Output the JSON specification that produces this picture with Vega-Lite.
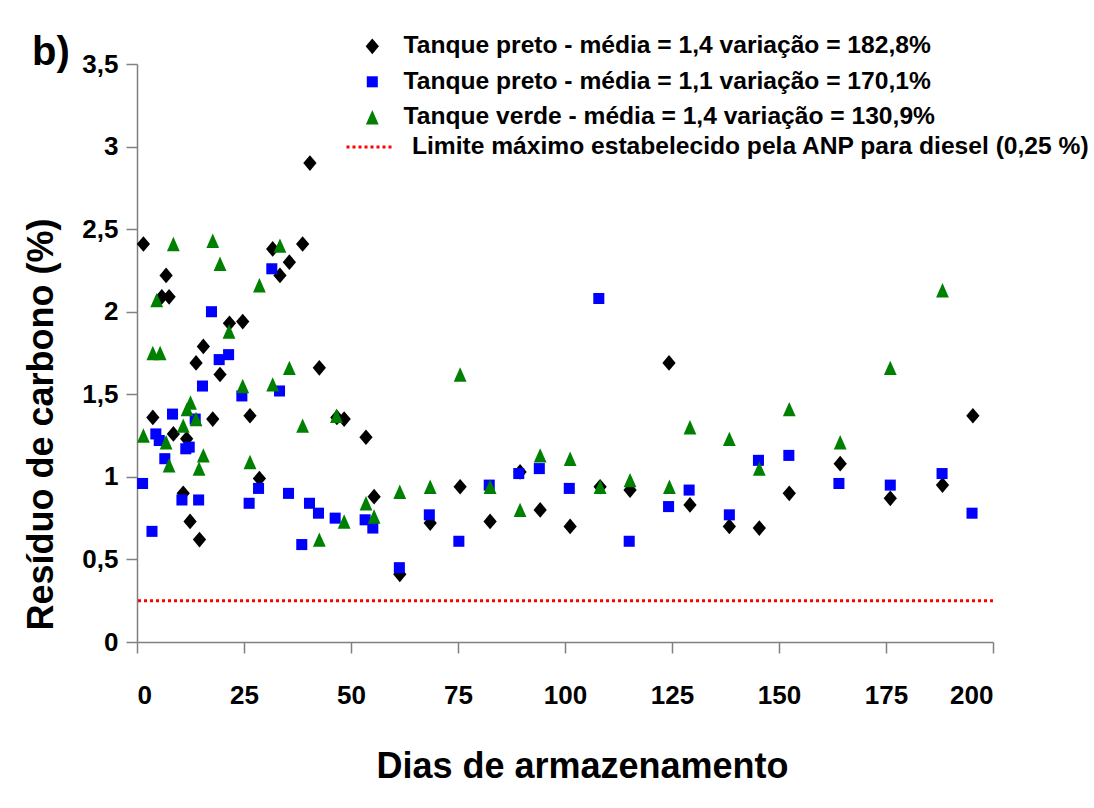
{
  "$schema": "https://vega.github.io/schema/vega-lite/v6.json",
  "width": 856,
  "height": 578,
  "autosize": "none",
  "padding": {"left": 137, "top": 64, "right": 101, "bottom": 166},
  "background": "white",
  "config": {
    "font": "Liberation Sans",
    "view": {"stroke": null},
    "axis": {
      "grid": false,
      "domainColor": "#808080",
      "domainWidth": 1.5,
      "tickColor": "#808080",
      "tickWidth": 1.5,
      "tickSize": 11,
      "labelFont": "Liberation Sans",
      "labelFontSize": 26,
      "labelFontWeight": "bold",
      "labelColor": "black",
      "titleFont": "Liberation Sans",
      "titleFontSize": 36,
      "titleFontWeight": "bold",
      "titleColor": "black"
    }
  },
  "title": {
    "text": "b)",
    "anchor": "start",
    "frame": "group",
    "baseline": "alphabetic",
    "offset": 0,
    "dx": -105,
    "dy": 71,
    "fontSize": 40,
    "fontWeight": "bold",
    "font": "Liberation Sans",
    "color": "black"
  },
  "layer": [
    {
      "data": {"values": [{"lim": 0.25, "k": "Limite máximo estabelecido pela ANP para diesel (0,25 %)"}]},
      "mark": {"type": "rule", "color": "#FF0000", "strokeWidth": 3},
      "encoding": {
        "y": {"field": "lim", "type": "quantitative"},
        "strokeDash": {
          "field": "k",
          "type": "nominal",
          "scale": {"range": [[3, 3]]},
          "legend": {
            "title": null,
            "orient": "none",
            "legendX": 208,
            "legendY": 59,
            "symbolType": "stroke",
            "symbolSize": 2025,
            "symbolStrokeColor": "#FF0000",
            "symbolStrokeWidth": 3,
            "symbolDash": [3, 3],
            "labelFont": "Liberation Sans",
            "labelFontSize": 24.6,
            "labelFontWeight": "bold",
            "labelColor": "black",
            "labelLimit": 1000,
            "labelOffset": 19
          }
        }
      }
    },
    {
      "data": {"values": [
        {"d": 1.5, "v": 2.41, "s": "a"}, {"d": 3.7, "v": 1.36, "s": "a"}, {"d": 5.8, "v": 2.09, "s": "a"},
        {"d": 6.8, "v": 2.22, "s": "a"}, {"d": 7.5, "v": 2.09, "s": "a"}, {"d": 8.5, "v": 1.26, "s": "a"},
        {"d": 10.8, "v": 0.90, "s": "a"}, {"d": 11.6, "v": 1.23, "s": "a"}, {"d": 12.4, "v": 0.73, "s": "a"},
        {"d": 13.8, "v": 1.69, "s": "a"}, {"d": 14.6, "v": 0.62, "s": "a"}, {"d": 15.5, "v": 1.79, "s": "a"},
        {"d": 17.7, "v": 1.35, "s": "a"}, {"d": 19.4, "v": 1.62, "s": "a"}, {"d": 21.6, "v": 1.93, "s": "a"},
        {"d": 24.7, "v": 1.94, "s": "a"}, {"d": 26.4, "v": 1.37, "s": "a"}, {"d": 28.6, "v": 0.99, "s": "a"},
        {"d": 31.7, "v": 2.38, "s": "a"}, {"d": 33.4, "v": 2.22, "s": "a"}, {"d": 35.6, "v": 2.30, "s": "a"},
        {"d": 38.7, "v": 2.41, "s": "a"}, {"d": 40.4, "v": 2.90, "s": "a"}, {"d": 42.6, "v": 1.66, "s": "a"},
        {"d": 46.7, "v": 1.36, "s": "a"}, {"d": 48.4, "v": 1.35, "s": "a"}, {"d": 53.5, "v": 1.24, "s": "a"},
        {"d": 55.4, "v": 0.88, "s": "a"}, {"d": 61.4, "v": 0.41, "s": "a"}, {"d": 68.5, "v": 0.72, "s": "a"},
        {"d": 75.5, "v": 0.94, "s": "a"}, {"d": 82.5, "v": 0.73, "s": "a"}, {"d": 89.5, "v": 1.03, "s": "a"},
        {"d": 94.2, "v": 0.80, "s": "a"}, {"d": 101.2, "v": 0.70, "s": "a"}, {"d": 108.2, "v": 0.94, "s": "a"},
        {"d": 115.2, "v": 0.92, "s": "a"}, {"d": 124.3, "v": 1.69, "s": "a"}, {"d": 129.2, "v": 0.83, "s": "a"},
        {"d": 138.4, "v": 0.70, "s": "a"}, {"d": 145.4, "v": 0.69, "s": "a"}, {"d": 152.4, "v": 0.90, "s": "a"},
        {"d": 164.3, "v": 1.08, "s": "a"}, {"d": 176.0, "v": 0.87, "s": "a"}, {"d": 188.2, "v": 0.95, "s": "a"},
        {"d": 195.3, "v": 1.37, "s": "a"},

        {"d": 1.3, "v": 0.96, "s": "b"}, {"d": 3.5, "v": 0.67, "s": "b"}, {"d": 4.4, "v": 1.26, "s": "b"},
        {"d": 5.2, "v": 1.22, "s": "b"}, {"d": 6.5, "v": 1.11, "s": "b"}, {"d": 8.3, "v": 1.38, "s": "b"},
        {"d": 10.5, "v": 0.86, "s": "b"}, {"d": 11.4, "v": 1.17, "s": "b"}, {"d": 12.2, "v": 1.18, "s": "b"},
        {"d": 13.6, "v": 1.35, "s": "b"}, {"d": 14.4, "v": 0.86, "s": "b"}, {"d": 15.3, "v": 1.55, "s": "b"},
        {"d": 17.4, "v": 2.00, "s": "b"}, {"d": 19.2, "v": 1.71, "s": "b"}, {"d": 21.4, "v": 1.74, "s": "b"},
        {"d": 24.5, "v": 1.49, "s": "b"}, {"d": 26.2, "v": 0.84, "s": "b"}, {"d": 28.4, "v": 0.93, "s": "b"},
        {"d": 31.5, "v": 2.26, "s": "b"}, {"d": 33.3, "v": 1.52, "s": "b"}, {"d": 35.4, "v": 0.90, "s": "b"},
        {"d": 38.5, "v": 0.59, "s": "b"}, {"d": 40.3, "v": 0.84, "s": "b"}, {"d": 42.4, "v": 0.78, "s": "b"},
        {"d": 46.3, "v": 0.75, "s": "b"}, {"d": 53.3, "v": 0.74, "s": "b"}, {"d": 55.1, "v": 0.69, "s": "b"},
        {"d": 61.3, "v": 0.45, "s": "b"}, {"d": 68.3, "v": 0.77, "s": "b"}, {"d": 75.2, "v": 0.61, "s": "b"},
        {"d": 82.3, "v": 0.95, "s": "b"}, {"d": 89.2, "v": 1.02, "s": "b"}, {"d": 94.0, "v": 1.05, "s": "b"},
        {"d": 101.0, "v": 0.93, "s": "b"}, {"d": 107.9, "v": 2.08, "s": "b"}, {"d": 115.0, "v": 0.61, "s": "b"},
        {"d": 124.2, "v": 0.82, "s": "b"}, {"d": 129.0, "v": 0.92, "s": "b"}, {"d": 138.4, "v": 0.77, "s": "b"},
        {"d": 145.2, "v": 1.10, "s": "b"}, {"d": 152.3, "v": 1.13, "s": "b"}, {"d": 164.0, "v": 0.96, "s": "b"},
        {"d": 176.0, "v": 0.95, "s": "b"}, {"d": 188.1, "v": 1.02, "s": "b"}, {"d": 195.1, "v": 0.78, "s": "b"},

        {"d": 1.5, "v": 1.25, "s": "c"}, {"d": 3.7, "v": 1.75, "s": "c"}, {"d": 4.6, "v": 2.07, "s": "c"},
        {"d": 5.4, "v": 1.75, "s": "c"}, {"d": 6.8, "v": 1.21, "s": "c"}, {"d": 7.5, "v": 1.07, "s": "c"},
        {"d": 8.5, "v": 2.41, "s": "c"}, {"d": 10.8, "v": 1.31, "s": "c"}, {"d": 11.7, "v": 1.41, "s": "c"},
        {"d": 12.5, "v": 1.45, "s": "c"}, {"d": 13.8, "v": 1.35, "s": "c"}, {"d": 14.5, "v": 1.05, "s": "c"},
        {"d": 15.5, "v": 1.13, "s": "c"}, {"d": 17.7, "v": 2.43, "s": "c"}, {"d": 19.4, "v": 2.29, "s": "c"},
        {"d": 21.5, "v": 1.88, "s": "c"}, {"d": 24.7, "v": 1.55, "s": "c"}, {"d": 26.4, "v": 1.09, "s": "c"},
        {"d": 28.6, "v": 2.16, "s": "c"}, {"d": 31.7, "v": 1.56, "s": "c"}, {"d": 33.4, "v": 2.40, "s": "c"},
        {"d": 35.6, "v": 1.66, "s": "c"}, {"d": 38.7, "v": 1.31, "s": "c"}, {"d": 42.6, "v": 0.62, "s": "c"},
        {"d": 46.6, "v": 1.37, "s": "c"}, {"d": 48.4, "v": 0.73, "s": "c"}, {"d": 53.5, "v": 0.84, "s": "c"},
        {"d": 55.4, "v": 0.76, "s": "c"}, {"d": 61.4, "v": 0.91, "s": "c"}, {"d": 68.5, "v": 0.94, "s": "c"},
        {"d": 75.5, "v": 1.62, "s": "c"}, {"d": 82.5, "v": 0.94, "s": "c"}, {"d": 89.5, "v": 0.80, "s": "c"},
        {"d": 94.2, "v": 1.13, "s": "c"}, {"d": 101.2, "v": 1.11, "s": "c"}, {"d": 108.2, "v": 0.94, "s": "c"},
        {"d": 115.2, "v": 0.98, "s": "c"}, {"d": 124.4, "v": 0.94, "s": "c"}, {"d": 129.2, "v": 1.30, "s": "c"},
        {"d": 138.4, "v": 1.23, "s": "c"}, {"d": 145.4, "v": 1.05, "s": "c"}, {"d": 152.4, "v": 1.41, "s": "c"},
        {"d": 164.3, "v": 1.21, "s": "c"}, {"d": 176.0, "v": 1.66, "s": "c"}, {"d": 188.2, "v": 2.13, "s": "c"}
      ]},
      "mark": {"type": "point", "filled": true, "opacity": 1, "size": 256},
      "encoding": {
        "x": {
          "field": "d",
          "type": "quantitative",
          "scale": {"domain": [0, 200], "nice": false, "zero": true},
          "axis": {
            "values": [0, 25, 50, 75, 100, 125, 150, 175, 200],
            "title": "Dias de armazenamento",
            "labelBaseline": "alphabetic",
            "labelPadding": 50,
            "titleBaseline": "alphabetic",
            "titleX": 445,
            "titleY": 135,
            "titleAnchor": "middle"
          }
        },
        "y": {
          "field": "v",
          "type": "quantitative",
          "scale": {"domain": [0, 3.5], "nice": false},
          "axis": {
            "values": [0, 0.5, 1, 1.5, 2, 2.5, 3, 3.5],
            "labelExpr": "replace(toString(datum.value), '.', ',')",
            "labelPadding": 8,
            "title": "Resíduo de carbono (%)",
            "titleBaseline": "alphabetic",
            "titleX": -85,
            "titleY": 360,
            "titleAnchor": "middle"
          }
        },
        "color": {
          "field": "s",
          "type": "nominal",
          "scale": {"domain": ["a", "b", "c"], "range": ["#000000", "#0000FF", "#008000"]},
          "legend": {
            "title": null,
            "orient": "none",
            "legendX": 223,
            "legendY": -30,
            "symbolSize": 256,
            "symbolStrokeWidth": 0,
            "labelFont": "Liberation Sans",
            "labelFontSize": 24.6,
            "labelFontWeight": "bold",
            "labelColor": "black",
            "labelLimit": 1000,
            "labelOffset": 19,
            "rowPadding": 10.5,
            "labelExpr": "datum.value == 'a' ? 'Tanque preto - média = 1,4 variação = 182,8%' : datum.value == 'b' ? 'Tanque preto - média = 1,1 variação = 170,1%' : 'Tanque verde - média = 1,4 variação = 130,9%'"
          }
        },
        "shape": {
          "field": "s",
          "type": "nominal",
          "scale": {"domain": ["a", "b", "c"], "range": ["M0,-0.98L0.83,0L0,0.98L-0.83,0Z", "M-0.69,-0.69L0.69,-0.69L0.69,0.69L-0.69,0.69Z", "M0,-0.9L0.8,0.9L-0.8,0.9Z"]}
        }
      }
    }
  ]
}
